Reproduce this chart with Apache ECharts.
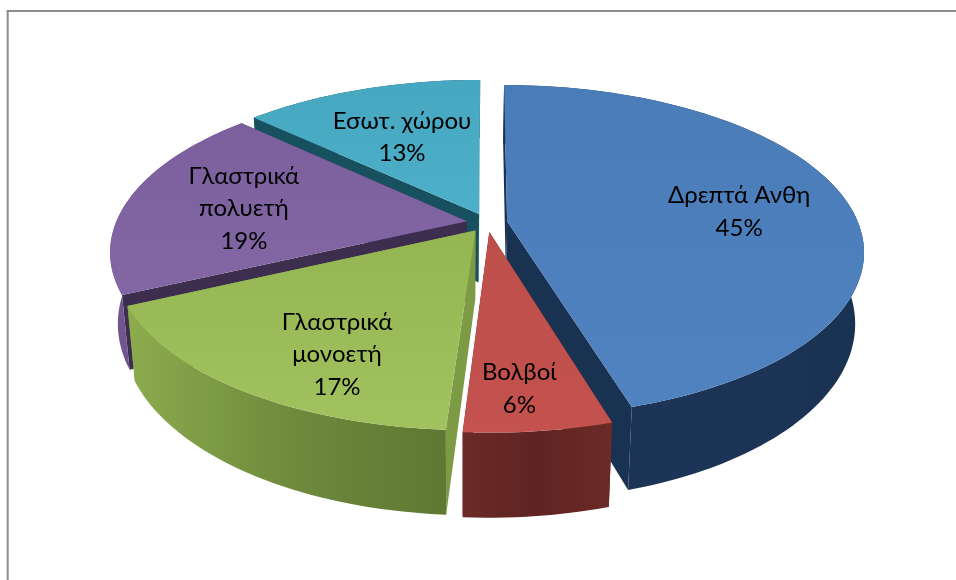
<!DOCTYPE html>
<html>
<head>
<meta charset="utf-8">
<style>html,body{margin:0;padding:0;background:#fff}#c{width:956px;height:580px}</style>
<script src="https://cdn.jsdelivr.net/npm/echarts@6/dist/echarts.min.js"></script>
</head>
<body>
<div id="c"></div>
<script>
// Data
const categories = ['Δρεπτά Ανθη', 'Βολβοί', 'Γλαστρικά\nμονοετή', 'Γλαστρικά\nπολυετή', 'Εσωτ. χώρου'];
const values = [45.4, 5.6, 17, 19, 13];

// Styling
const topColors = [['#4f82bf', '#4a7cb8'], ['#c4524e', '#bd4f4b'], ['#a2c25f', '#95b552'], ['#8367a5', '#7c609e'], ['#4dafc9', '#47a7c1']];
const rimColors = [['#1a3252', '#1c3557', '#1a3252'], ['#6b2a27', '#5f2422', '#6b2b28'], ['#8dab4e', '#6f8b3c', '#5f7833'], ['#71568f', '#6a5089', '#5d4679'], ['#17505f', '#17505f', '#17505f']];
const cutColors = ['#1a3252', '#632523', '#7d9a45', '#3d2e50', '#17505f'];
const drawRank = [2, 4, 3, 1, 0];

// Label layout in disc coordinates
const labelRadius = [0.672, 0.817, 0.749, 0.651, 0.587];
const labelAngle = [85, 175, 207, 277, 335.4];

// Projection of the disc
const CX = 487, CY = 222.6, RX = 351, RY = 161, PERSP = 0.179, EXPLODE = 0.058, DEPTH = 69, SHRINK = 0.978, SHRINK_X = 463;
const total = values.reduce((a, b) => a + b, 0);
const rad = d => d * Math.PI / 180;

function project(u, v) {
  const s = 1 / (1 - PERSP * v);
  return { x: CX + RX * u * s, y: CY + RY * v * s, s };
}
function topPoint(deg, r, off) {
  return project(r * Math.sin(rad(deg)) + off[0], -r * Math.cos(rad(deg)) + off[1]);
}
function bottomOf(p) {
  return [SHRINK_X + (p.x - SHRINK_X) * SHRINK, p.y + DEPTH * p.s];
}
function sliceStart(i) {
  let a = 0;
  for (let k = 0; k < i; k++) a += values[k];
  return a / total * 360;
}

function renderItem(params, api) {
  const i = params.dataIndex;
  const v = api.value(0);
  const a0 = sliceStart(i);
  const a1 = a0 + v / total * 360;
  const mid = (a0 + a1) / 2;
  const off = [EXPLODE * Math.sin(rad(mid)), -EXPLODE * Math.cos(rad(mid))];
  const apex = topPoint(0, 0, off);
  const arc = [];
  const n = Math.max(8, Math.ceil((a1 - a0) / 1.5));
  for (let k = 0; k <= n; k++) arc.push(topPoint(a0 + (a1 - a0) * k / n, 1, off));
  const xy = p => [p.x, p.y];
  const rank = drawRank[i] * 10;
  const cut = (outer) => ({
    type: 'polygon', z2: rank + 1,
    shape: { points: [xy(apex), xy(outer), bottomOf(outer), bottomOf(apex)] },
    style: { fill: cutColors[i] }
  });
  const rimPts = arc.map(xy).concat(arc.slice().reverse().map(bottomOf));
  const topPts = [xy(apex)].concat(arc.map(xy));
  const c = rimColors[i];
  const t = topColors[i];
  const lp = topPoint(labelAngle[i], labelRadius[i], off);
  const children = [
    cut(arc[0]),
    cut(arc[arc.length - 1]),
    {
      type: 'polygon', z2: rank + 2,
      shape: { points: rimPts },
      style: { fill: new echarts.graphic.LinearGradient(0, 0, 1, 0, [
        { offset: 0, color: c[0] }, { offset: 0.5, color: c[1] }, { offset: 1, color: c[2] }
      ]) }
    },
    {
      type: 'polygon', z2: rank + 3,
      shape: { points: topPts },
      style: { fill: new echarts.graphic.LinearGradient(0, 1, 0, 0, [
        { offset: 0, color: t[0] }, { offset: 1, color: t[1] }
      ]) }
    },
    {
      type: 'text', z2: 100,
      style: {
        text: categories[i] + '\n' + Math.round(v) + '%',
        x: lp.x, y: lp.y, align: 'center', verticalAlign: 'middle',
        font: '24px Lato, "Open Sans", sans-serif',
        lineHeight: 32.5, fill: '#000'
      }
    }
  ];
  return { type: 'group', children };
}

const chart = echarts.init(document.getElementById('c'), null, { renderer: 'canvas' });
chart.setOption({
  animation: false,
  backgroundColor: '#fff',
  tooltip: { show: false },
  graphic: [
    { type: 'line', shape: { x1: 6.7, y1: 11, x2: 956, y2: 11 }, style: { stroke: '#8c8c8c', lineWidth: 2 } },
    { type: 'line', shape: { x1: 7.7, y1: 10, x2: 7.7, y2: 580 }, style: { stroke: '#8c8c8c', lineWidth: 2 } }
  ],
  series: [{
    type: 'custom',
    coordinateSystem: 'none',
    renderItem,
    data: values.map((v, i) => ({ name: categories[i], value: [v] }))
  }]
});
</script>
</body>
</html>
